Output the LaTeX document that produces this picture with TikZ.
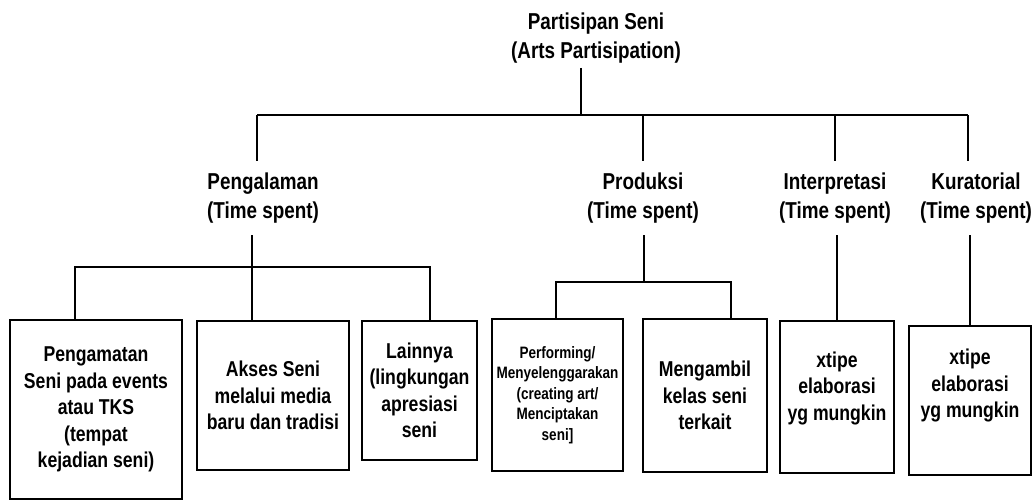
\documentclass[tikz,border=0pt]{standalone}
\usepackage{fontspec}
\usepackage{tikz}
\newfontfamily\chartfont[FakeStretch=0.82]{Liberation Sans}
\newcommand{\headsize}{\fontsize{23}{29.5}\selectfont}
\newcommand{\leafsize}{\fontsize{21.5}{26.5}\selectfont}
\newcommand{\smallleafsize}{\fontsize{16.5}{20.5}\selectfont}

\begin{document}
\begin{tikzpicture}[x=1pt,y=-1pt]
\tikzstyle{every node}+=[inner sep=0pt, align=center, font=\chartfont\bfseries]
\tikzstyle{head}=[font=\chartfont\bfseries\headsize, outer xsep=0pt, outer ysep=12pt]
\tikzstyle{leaf}=[draw, black, line width=2.2pt, font=\chartfont\bfseries\leafsize]
\tikzstyle{wire}=[black, line width=1.3pt]
\useasboundingbox (0,0) rectangle (1033,501);
\node [head, outer ysep=4.5pt] (title) at (596,38) {Partisipan Seni\\(Arts Partisipation)};
\node [head] (peng) at (263,198) {Pengalaman\\(Time spent)};
\node [head] (prod) at (643,198) {Produksi\\(Time spent)};
\node [head] (interp) at (835,198) {Interpretasi\\(Time spent)};
\node [head] (kur) at (976,198) {Kuratorial\\(Time spent)};
\node [leaf, minimum width=172, minimum height=179] (obs) at (96,409.5) {Pengamatan\\Seni pada events\\atau TKS\\(tempat\\kejadian seni)};
\node [leaf, minimum width=152, minimum height=149] (akses) at (273,395.5) {Akses Seni\\melalui media\\baru dan tradisi};
\node [leaf, minimum width=115, minimum height=139] (lain) at (419.5,390.5) {Lainnya\\(lingkungan\\apresiasi\\seni};
\node [leaf, minimum width=131, minimum height=152, font=\chartfont\bfseries\smallleafsize] (perf) at (557.5,395) {Performing/\\Menyelenggarakan\\(creating art/\\Menciptakan\\seni]};
\node [leaf, minimum width=124, minimum height=153] (ambil) at (705,395.5) {Mengambil\\kelas seni\\terkait};
\node [leaf, minimum width=114, minimum height=152, text depth=22pt] (xtinterp) at (837,397) {xtipe\\elaborasi\\yg mungkin};
\node [leaf, minimum width=122, minimum height=149, text depth=34pt] (xtkur) at (970,400.5) {xtipe\\elaborasi\\yg mungkin};
\coordinate (bus) at (581,115);
\coordinate (busL) at (257,115);
\coordinate (busR) at (968,115);
\coordinate (pengL) at (75,267);
\coordinate (pengJ) at (252,267);
\coordinate (pengR) at (430,267);
\coordinate (prodL) at (556,282);
\coordinate (prodJ) at (644,282);
\coordinate (prodR) at (731,282);
\draw [wire] (bus |- title.south) -- (bus);
\draw [wire] (busL) -- (busR);
\draw [wire] (busL) -- (busL |- peng.north);
\draw [wire] (prod.north |- bus) -- (prod.north);
\draw [wire] (interp.north |- bus) -- (interp.north);
\draw [wire] (busR) -- (busR |- kur.north);
\draw [wire] (pengJ |- peng.south) -- (pengJ |- akses.north);
\draw [wire] (pengL |- obs.north) -- (pengL) -- (pengR) -- (pengR |- lain.north);
\draw [wire] (prodJ |- prod.south) -- (prodJ);
\draw [wire] (prodL |- perf.north) -- (prodL) -- (prodR) -- (prodR |- ambil.north);
\draw [wire] (xtinterp.north |- interp.south) -- (xtinterp.north);
\draw [wire] (xtkur.north |- kur.south) -- (xtkur.north);
\end{tikzpicture}
\end{document}
